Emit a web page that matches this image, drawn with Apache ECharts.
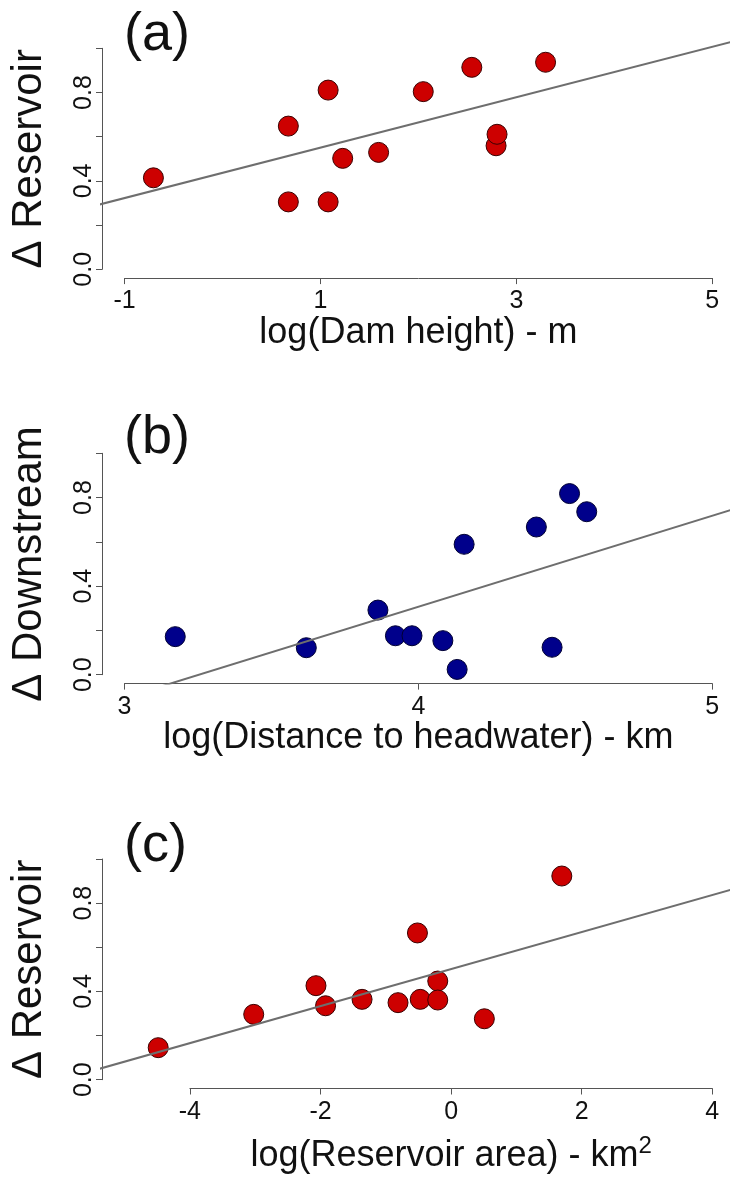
<!DOCTYPE html>
<html><head><meta charset="utf-8">
<script src="https://cdn.jsdelivr.net/npm/echarts@6/dist/echarts.min.js"></script>
<style>html,body{margin:0;padding:0;background:#fff}#c{width:730px;height:1187px}</style>
</head><body><div id="c"></div>
<script>
// ---------- data ----------
const panelLabels = ['(a)', '(b)', '(c)'];
const xTitles = ['log(Dam height) - m', 'log(Distance to headwater) - km', 'log(Reservoir area) - km{sup|2}'];
const yTitles = ['\u0394 Reservoir', '\u0394 Downstream', '\u0394 Reservoir'];

const damHeightX = [-0.70, 0.69, 0.69, 1.10, 1.10, 1.25, 1.62, 2.08, 2.58, 2.83, 2.84, 3.34];
const damHeightY = [0.414, 0.648, 0.305, 0.811, 0.305, 0.502, 0.529, 0.804, 0.914, 0.559, 0.611, 0.937];
const distX = [3.175, 3.625, 3.871, 3.931, 3.988, 4.094, 4.143, 4.167, 4.415, 4.469, 4.529, 4.588];
const distY = [0.172, 0.122, 0.292, 0.176, 0.176, 0.154, 0.024, 0.589, 0.667, 0.124, 0.818, 0.736];
const areaX = [-4.476, -3.00, -2.038, -1.89, -1.326, -0.77, -0.47, -0.427, -0.156, -0.156, 0.564, 1.761];
const areaY = [0.145, 0.296, 0.426, 0.335, 0.364, 0.349, 0.665, 0.364, 0.447, 0.361, 0.276, 0.923];

// fitted regression lines (end points, clipped by the plot region)
const fitA = [[-1.3, 0.288], [5.3, 1.034]];
const fitB = [[2.9, -0.145], [5.1, 0.751]];
const fitC = [[-5.4, 0.048], [4.4, 0.863]];

// axis ranges / ticks
const xAxisA = {min: -1, max: 5, interval: 2, lim: [-1.24, 5.24]};
const xAxisB = {min: 3, max: 5, interval: 1, lim: [2.92, 5.08]};
const xAxisC = {min: -4, max: 4, interval: 2, lim: [-5.36, 4.36]};
const yTicks = {min: 0, max: 1, interval: 0.2, lim: [-0.04, 1.04]};
const yLabelled = [0, 0.4, 0.8];

// ---------- layout / style ----------
const FONT = "'Liberation Sans', Arial, sans-serif";
const layout = [
  {main: {left: 101, top: 39.5, width: 634.8, height: 238.6}, xg: {left: 124.5, width: 587.8}, yg: {top: 48.3, height: 221}, titleTop: 3, nameGap: 31},
  {main: {left: 101, top: 444.4, width: 634.8, height: 239.2}, xg: {left: 124.5, width: 587.8}, yg: {top: 453.3, height: 221.4}, titleTop: 406, nameGap: 29},
  {main: {left: 101, top: 850.2, width: 634.8, height: 238.3}, xg: {left: 189.9, width: 522.4}, yg: {top: 859, height: 220.7}, titleTop: 814, nameGap: 46}
];
const panels = [
  {xs: damHeightX, ys: damHeightY, fit: fitA, xa: xAxisA, color: '#CD0000', border: '#3a0000'},
  {xs: distX, ys: distY, fit: fitB, xa: xAxisB, color: '#00008B', border: '#000033'},
  {xs: areaX, ys: areaY, fit: fitC, xa: xAxisC, color: '#CD0000', border: '#3a0000'}
];
const AXIS_COLOR = '#555';

const grid = [], xAxis = [], yAxis = [], series = [], title = [];
panels.forEach((p, i) => {
  const L = layout[i];
  const g0 = grid.length;
  grid.push(Object.assign({}, L.main));
  grid.push({left: L.xg.left, width: L.xg.width, top: L.main.top, height: L.main.height});
  grid.push({left: L.main.left, width: L.main.width, top: L.yg.top, height: L.yg.height});

  // main (hidden) coordinate system
  xAxis.push({gridIndex: g0, type: 'value', min: p.xa.lim[0], max: p.xa.lim[1], show: false});
  yAxis.push({gridIndex: g0, type: 'value', min: yTicks.lim[0], max: yTicks.lim[1], show: false});

  // visible x axis (R style: spans first to last tick)
  xAxis.push({
    gridIndex: g0 + 1, type: 'value', min: p.xa.min, max: p.xa.max, interval: p.xa.interval,
    position: 'bottom',
    axisLine: {show: true, onZero: false, lineStyle: {color: AXIS_COLOR, width: 1}},
    axisTick: {show: true, length: 6, lineStyle: {color: AXIS_COLOR, width: 1}},
    splitLine: {show: false},
    axisLabel: {fontSize: 25, color: '#111', margin: 11, fontFamily: FONT},
    name: xTitles[i], nameLocation: 'middle', nameGap: L.nameGap,
    nameTextStyle: {fontSize: 36, color: '#111', fontFamily: FONT,
      rich: {sup: {fontSize: 24, color: '#111', fontFamily: FONT, padding: [0, 0, 20, 0]}}}
  });
  yAxis.push({gridIndex: g0 + 1, type: 'value', show: false});

  // visible y axis
  xAxis.push({gridIndex: g0 + 2, type: 'value', show: false});
  yAxis.push({
    gridIndex: g0 + 2, type: 'value', min: yTicks.min, max: yTicks.max, interval: yTicks.interval,
    position: 'left',
    axisLine: {show: true, onZero: false, lineStyle: {color: AXIS_COLOR, width: 1}},
    axisTick: {show: true, length: 6, lineStyle: {color: AXIS_COLOR, width: 1}},
    splitLine: {show: false},
    axisLabel: {fontSize: 25, color: '#111', rotate: 90, margin: 5, fontFamily: FONT,
      formatter: v => yLabelled.some(t => Math.abs(t - v) < 1e-9) ? v.toFixed(1) : ''},
    name: yTitles[i], nameLocation: 'middle', nameGap: 52, nameRotate: 90,
    nameTextStyle: {fontSize: 42, color: '#111', fontFamily: FONT}
  });

  const xi = xAxis.length - 3, yi = yAxis.length - 3;
  series.push({
    type: 'scatter', xAxisIndex: xi, yAxisIndex: yi, symbol: 'circle', symbolSize: 20,
    itemStyle: {color: p.color, borderColor: p.border, borderWidth: 1, opacity: 1},
    data: p.xs.map((x, k) => [x, p.ys[k]]), z: 2
  });
  series.push({
    type: 'line', xAxisIndex: xi, yAxisIndex: yi, data: p.fit, symbol: 'none', clip: true,
    lineStyle: {color: '#6e6e6e', width: 2}, z: 3, silent: true
  });

  title.push({text: panelLabels[i], left: 119, top: L.titleTop,
    textStyle: {fontSize: 54, fontWeight: 'normal', color: '#111', fontFamily: FONT}});
});

const chart = echarts.init(document.getElementById('c'), null, {renderer: 'canvas'});
chart.setOption({backgroundColor: '#fff', animation: false, title, grid, xAxis, yAxis, series});
</script></body></html>
